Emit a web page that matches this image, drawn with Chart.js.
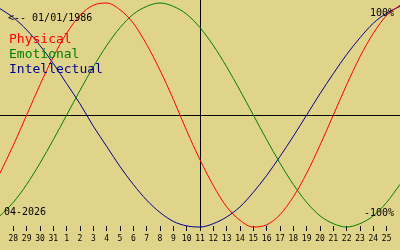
<!DOCTYPE html>
<html>
<head>
<meta charset="utf-8">
<script src="https://cdn.jsdelivr.net/npm/chart.js@4/dist/chart.umd.min.js"></script>
<style>
  html, body { margin: 0; padding: 0; background: #e0d48a; }
  #bio { display: block; }
</style>
</head>
<body>
<canvas id="bio" width="400" height="250"></canvas>
<script>
// days shown, 27 March .. 26 April (first and last are not labelled)
const days = [27, 28, 29, 30, 31, 1, 2, 3, 4, 5, 6, 7, 8, 9, 10, 11, 12, 13, 14, 15, 16, 17, 18, 19, 20, 21, 22, 23, 24, 25, 26];
const physical = [-0.52, -0.27, 0, 0.27, 0.52, 0.73, 0.89, 0.98, 1.00, 0.94, 0.82, 0.63, 0.40, 0.14, -0.14, -0.40,
  -0.63, -0.82, -0.94, -1.00, -0.98, -0.89, -0.73, -0.52, -0.27, 0, 0.27, 0.52, 0.73, 0.89, 0.98];
const emotional = [-0.90, -0.78, -0.62, -0.43, -0.22, 0, 0.22, 0.43, 0.62, 0.78, 0.90, 0.97, 1.00, 0.97, 0.90, 0.78,
  0.62, 0.43, 0.22, 0, -0.22, -0.43, -0.62, -0.78, -0.90, -0.97, -1.00, -0.97, -0.90, -0.78, -0.62];
const intellectual = [0.95, 0.87, 0.76, 0.62, 0.46, 0.28, 0.10, -0.10, -0.28, -0.46, -0.62, -0.76, -0.87, -0.95, -0.99, -1.00,
  -0.97, -0.91, -0.82, -0.69, -0.54, -0.37, -0.19, 0, 0.19, 0.37, 0.54, 0.69, 0.82, 0.91, 0.97];
const todayIndex = 15; // 11
const birthText = '<-- 01/01/1986';
const monthText = '04-2026';

const bg = '#e0d48a';
const mono = '"DejaVu Sans Mono", "Liberation Mono", monospace';

const pts = arr => arr.map((v, i) => ({ x: i, y: v }));

const series = (label, values, color) => ({
    label: label,
    data: pts(values),
    borderColor: color,
    borderWidth: 1,
    pointRadius: 0,
    cubicInterpolationMode: 'monotone',
    clip: false,
});

// background, axes cross and the texts
const decor = {
    id: 'decor',
    beforeDraw(chart) {
        const c = chart.ctx;
        c.save();
        c.fillStyle = bg;
        c.fillRect(0, 0, chart.width, chart.height);
        c.restore();
    },
    beforeDatasetsDraw(chart) {
        const c = chart.ctx, a = chart.chartArea;
        const x0 = Math.round(chart.scales.x.getPixelForValue(todayIndex)) + 0.5;
        const y0 = Math.round(chart.scales.y.getPixelForValue(0)) + 0.5;
        c.save();
        c.strokeStyle = '#000';
        c.lineWidth = 1;
        c.beginPath();
        c.moveTo(0, y0); c.lineTo(chart.width, y0);
        c.moveTo(x0, 0); c.lineTo(x0, a.bottom);
        c.stroke();
        c.restore();
    },
    afterDatasetsDraw(chart) {
        const c = chart.ctx;
        c.save();
        c.textBaseline = 'alphabetic';
        c.font = '10px ' + mono;
        c.fillStyle = '#000';
        c.textAlign = 'left';
        c.fillText(birthText, 8, 21);
        c.fillText(monthText, 4, 215);
        c.textAlign = 'right';
        c.fillText('100%', 394, 16);
        c.fillText('-100%', 394, 216);
        c.textAlign = 'left';
        c.font = '13px ' + mono;
        c.fillStyle = '#ff0000'; c.fillText('Physical', 9, 43);
        c.fillStyle = '#008000'; c.fillText('Emotional', 9, 58);
        c.fillStyle = '#000090'; c.fillText('Intellectual', 9, 73);
        c.restore();
    }
};

new Chart(document.getElementById('bio'), {
    type: 'line',
    data: {
        datasets: [
            series('Physical', physical, '#ff0000'),
            series('Emotional', emotional, '#008000'),
            series('Intellectual', intellectual, '#000090'),
        ]
    },
    options: {
        responsive: false,
        animation: false,
        layout: { padding: 0 },
        plugins: { legend: { display: false }, tooltip: { enabled: false } },
        scales: {
            x: {
                type: 'linear',
                min: 0,
                max: days.length - 1,
                afterBuildTicks(scale) {
                    scale.ticks = days.slice(1, -1).map((d, i) => ({ value: i + 1 }));
                },
                afterFit(scale) { scale.height = 24; },
                border: { display: false },
                grid: { drawOnChartArea: false, drawTicks: true, tickLength: 5, tickColor: '#000', tickWidth: 1 },
                ticks: {
                    autoSkip: false,
                    maxRotation: 0,
                    padding: 3,
                    color: '#000',
                    font: { family: mono, size: 8 },
                    callback: v => days[v],
                },
            },
            y: {
                display: false,
                min: -0.991,
                max: 1.027,
            }
        }
    },
    plugins: [decor]
});
</script>
</body>
</html>
